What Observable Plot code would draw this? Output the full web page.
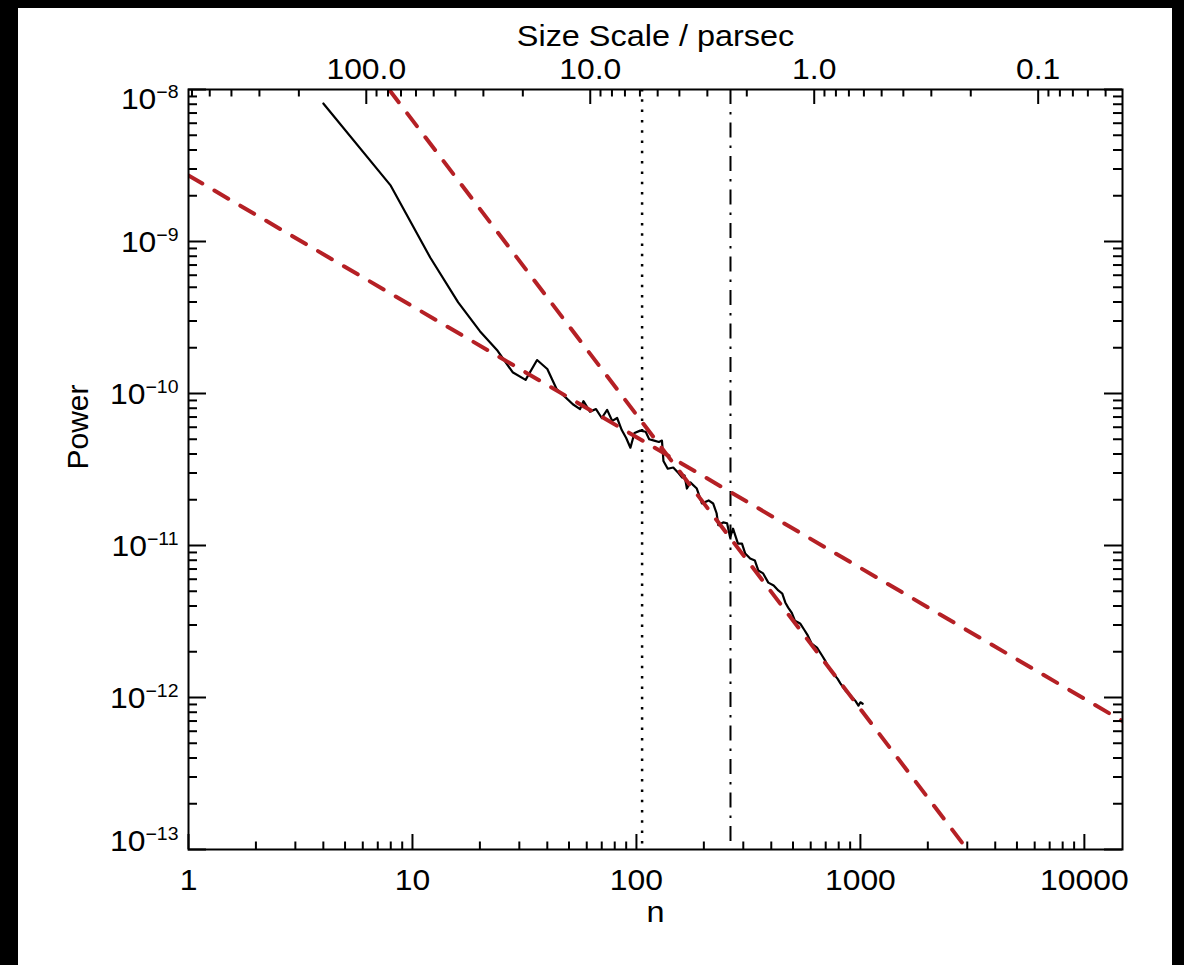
<!DOCTYPE html>
<html>
<head>
<meta charset="utf-8">
<script src="https://cdn.jsdelivr.net/npm/d3@7"></script>
<script src="https://cdn.jsdelivr.net/npm/@observablehq/plot@0.6"></script>
<style>
  html, body { margin: 0; padding: 0; background: #000; width: 1184px; height: 965px; overflow: hidden; }
  #chart { position: absolute; left: 18px; top: 8px; width: 1154px; height: 957px; background: #fff; }
</style>
</head>
<body>
<div id="chart"></div>
<script>
// ---- data ----
const specN = [4, 8, 12, 16, 20, 24, 28, 32, 36, 40, 44, 48, 52, 56, 58, 62, 66, 70, 74, 78, 82, 86, 90, 94, 98,
  104, 110, 114, 120, 126, 130, 132, 138, 146, 154, 160, 164, 168, 174, 186, 196, 210, 220, 228, 232, 244, 254,
  262, 270, 284, 296, 306, 322, 338, 350, 368, 388, 410, 430, 448, 462, 476, 494, 510, 538, 564, 582, 606, 640,
  674, 696, 720, 750, 790, 814, 858, 904, 950, 980, 1000, 1024];
const specP = [8.09e-9, 2.33e-9, 7.85e-10, 3.98e-10, 2.57e-10, 1.91e-10, 1.38e-10, 1.23e-10, 1.66e-10, 1.45e-10,
  1.07e-10, 9.5e-11, 8.5e-11, 7.9e-11, 8.9e-11, 7.6e-11, 7.9e-11, 6.9e-11, 7.8e-11, 6.6e-11, 6.9e-11, 5.75e-11,
  5.1e-11, 4.4e-11, 5.5e-11, 5.7e-11, 5.6e-11, 5.0e-11, 4.9e-11, 4.8e-11, 4.9e-11, 3.6e-11, 3.2e-11, 3.26e-11,
  3.0e-11, 2.8e-11, 2.89e-11, 2.37e-11, 2.6e-11, 2.37e-11, 1.89e-11, 1.98e-11, 1.89e-11, 1.63e-11, 1.36e-11,
  1.42e-11, 1.40e-11, 1.13e-11, 1.29e-11, 1.03e-11, 1.03e-11, 8.85e-12, 8.2e-12, 7.96e-12, 6.85e-12, 6.55e-12,
  5.7e-12, 5.46e-12, 5.06e-12, 4.83e-12, 4.22e-12, 3.9e-12, 3.6e-12, 3.2e-12, 3.07e-12, 2.76e-12, 2.56e-12,
  2.26e-12, 2.13e-12, 1.89e-12, 1.75e-12, 1.57e-12, 1.46e-12, 1.33e-12, 1.24e-12, 1.11e-12, 1.03e-12, 9.5e-13,
  8.85e-13, 9.3e-13, 9.1e-13];

const fitShallowN = [1, 14800];
const fitShallowP = [2.72e-9, 7.0e-13];
const fitSteepN = [7.86, 3000];
const fitSteepP = [1e-8, 1e-13];

const markerDotN = [106];
const markerDashDotN = [263];

const xTickValues = [1, 10, 100, 1000, 10000];
const xTickLabels = ["1", "10", "100", "1000", "10000"];
const yTickValues = [1e-8, 1e-9, 1e-10, 1e-11, 1e-12, 1e-13];
const yTickExps = ["\u22128", "\u22129", "\u221210", "\u221211", "\u221212", "\u221213"];
const sizeTickValues = [100, 10, 1, 0.1];
const sizeTickLabels = ["100.0", "10.0", "1.0", "0.1"];
const sizeToN = 622; // n = sizeToN / size (parsec)

const xTitle = "n";
const yTitle = "Power";
const topTitle = "Size Scale / parsec";

// ---- layout ----
const W = 1154, H = 957;
const mL = 170, mR = 50, mT = 81, mB = 116;
const innerW = W - mL - mR, innerH = H - mT - mB;
const xDomain = [1, 14800], yDomain = [1e-13, 1e-8];
const red = "#b52025";
const font = "'Liberation Sans', Arial, Helvetica, sans-serif";
const tickFont = 29.5, titleFont = 30, supFont = 18, hStretch = 1.08;

const minors = (lo, hi, kmin, kmax) => {
  const out = [];
  for (let k = kmin; k <= kmax; k++) for (let m = 2; m <= 9; m++) {
    const v = m * Math.pow(10, k);
    if (v >= lo && v <= hi) out.push(v);
  }
  return out;
};
const xMinor = minors(xDomain[0], xDomain[1], 0, 4);
const yMinor = minors(yDomain[0], yDomain[1], -13, -9);
const sizeMinor = minors(sizeToN / xDomain[1], sizeToN / xDomain[0], -2, 2);

const spec = specN.map((n, i) => ({n, p: specP[i]}));
const fitA = fitShallowN.map((n, i) => ({n, p: fitShallowP[i]}));
const fitB = fitSteepN.map((n, i) => ({n, p: fitSteepP[i]}));

const tickStyle = {stroke: "black", strokeWidth: 2};

const svg = Plot.plot({
  width: W, height: H,
  marginLeft: mL, marginRight: mR, marginTop: mT, marginBottom: mB,
  style: {fontFamily: font, background: "white", color: "black", overflow: "visible"},
  x: {type: "log", domain: xDomain, axis: null},
  y: {type: "log", domain: yDomain, axis: null},
  marks: [
    Plot.ruleX(markerDotN, {stroke: "black", strokeWidth: 2.5, strokeDasharray: "2.5,7.8"}),
    Plot.ruleX(markerDashDotN, {stroke: "black", strokeWidth: 2, strokeDasharray: "15,8,2.5,8"}),
    Plot.line(spec, {x: "n", y: "p", stroke: "black", strokeWidth: 2.2, clip: true}),
    Plot.line(fitA, {x: "n", y: "p", stroke: red, strokeWidth: 4, strokeDasharray: "16,14", clip: true}),
    Plot.line(fitB, {x: "n", y: "p", stroke: red, strokeWidth: 4, strokeDasharray: "16,14", clip: true}),
    Plot.tickX(xTickValues, {...tickStyle, insetTop: innerH - 15}),
    Plot.tickX(xMinor, {...tickStyle, insetTop: innerH - 7.5}),
    Plot.tickX(sizeTickValues, {x: s => sizeToN / s, ...tickStyle, insetBottom: innerH - 15}),
    Plot.tickX(sizeMinor, {x: s => sizeToN / s, ...tickStyle, insetBottom: innerH - 7.5}),
    Plot.tickY(yTickValues, {...tickStyle, insetRight: innerW - 18}),
    Plot.tickY(yMinor, {...tickStyle, insetRight: innerW - 9}),
    Plot.tickY(yTickValues, {...tickStyle, insetLeft: innerW - 18}),
    Plot.tickY(yMinor, {...tickStyle, insetLeft: innerW - 9}),
    Plot.frame({stroke: "black", strokeWidth: 2}),
    Plot.text(xTickValues, {x: d => d, text: (d, i) => xTickLabels[i], frameAnchor: "bottom",
      lineAnchor: "bottom", dy: 40, fontSize: tickFont, fill: "black"}),
    Plot.text(sizeTickValues, {x: s => sizeToN / s, text: (d, i) => sizeTickLabels[i], frameAnchor: "top",
      lineAnchor: "bottom", dy: -11, fontSize: tickFont, fill: "black"}),
    Plot.text(yTickValues.slice(0, 1), {y: d => d, text: (d, i) => "10^" + yTickExps[i], frameAnchor: "left",
      textAnchor: "end", lineAnchor: "bottom", dx: -10, dy: 19, fontSize: tickFont, fill: "black"}),
    Plot.text(yTickValues.slice(1, 5), {y: d => d, text: (d, i) => "10^" + yTickExps[i + 1], frameAnchor: "left",
      textAnchor: "end", lineAnchor: "bottom", dx: -10, dy: 10, fontSize: tickFont, fill: "black"}),
    Plot.text(yTickValues.slice(5), {y: d => d, text: (d, i) => "10^" + yTickExps[i + 5], frameAnchor: "left",
      textAnchor: "end", lineAnchor: "bottom", dx: -10, dy: 1, fontSize: tickFont, fill: "black"}),
    Plot.text([xTitle], {frameAnchor: "bottom", lineAnchor: "bottom", dy: 72, fontSize: titleFont, fill: "black"}),
    Plot.text([topTitle], {frameAnchor: "top", lineAnchor: "bottom", dy: -44, fontSize: titleFont, fill: "black"}),
    Plot.text([yTitle], {frameAnchor: "left", rotate: -90, dx: -101, lineAnchor: "bottom", fontSize: titleFont, fill: "black"})
  ]
});

// superscript exponents
svg.querySelectorAll("text").forEach(t => {
  const s = t.textContent;
  if (s.includes("^")) {
    const [base, exp] = s.split("^");
    t.textContent = base;
    const ts = document.createElementNS("http://www.w3.org/2000/svg", "tspan");
    ts.setAttribute("dy", "-11");
    ts.setAttribute("font-size", String(supFont));
    ts.textContent = exp;
    t.appendChild(ts);
  }
});

document.getElementById("chart").append(svg);

// the reference lettering is slightly wider than Liberation Sans: widen horizontal texts
svg.querySelectorAll("text").forEach(t => {
  if ((t.getAttribute("transform") || "").includes("rotate")) return;
  const len = t.getComputedTextLength();
  if (len > 0) {
    t.setAttribute("textLength", (len * hStretch).toFixed(2));
    t.setAttribute("lengthAdjust", "spacingAndGlyphs");
  }
});
</script>
</body>
</html>
